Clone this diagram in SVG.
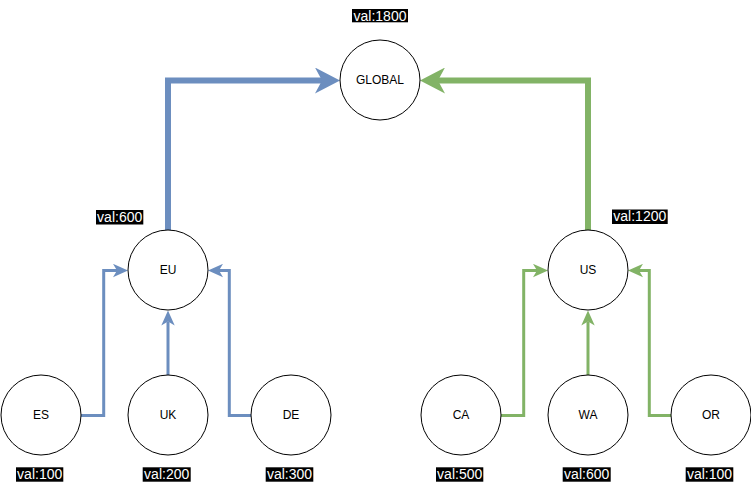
<svg xmlns="http://www.w3.org/2000/svg" width="751" height="490" viewBox="0 0 751 490">
  <style>
    .node circle { fill: #ffffff; stroke: #000000; stroke-width: 1; }
    .node text { font-family: "Liberation Sans", Arial, Helvetica, sans-serif; font-size: 12px; fill: #000000; text-anchor: middle; }
    .lbl rect { fill: #000000; }
    .lbl text { font-family: "Liberation Sans", Arial, Helvetica, sans-serif; font-size: 14px; fill: #ffffff; text-anchor: middle; }
    .blue { fill: none; stroke: #6c8ebf; }
    .green { fill: none; stroke: #82b366; }
    .big { stroke-width: 6; }
    .small { stroke-width: 3; }
  </style>
  <defs>
    <marker id="bigBlue" markerUnits="userSpaceOnUse" markerWidth="26" markerHeight="26" viewBox="0 0 25 26" refX="7" refY="13" orient="auto">
      <path d="M0,0 L25,13 L0,26 L7,13 Z" fill="#6c8ebf"/>
    </marker>
    <marker id="bigGreen" markerUnits="userSpaceOnUse" markerWidth="26" markerHeight="26" viewBox="0 0 25 26" refX="7" refY="13" orient="auto">
      <path d="M0,0 L25,13 L0,26 L7,13 Z" fill="#82b366"/>
    </marker>
    <marker id="smBlue" markerUnits="userSpaceOnUse" markerWidth="15" markerHeight="14" viewBox="0 0 15 13.4" refX="4" refY="6.7" orient="auto">
      <path d="M0,0 L15,6.7 L0,13.4 L4,6.7 Z" fill="#6c8ebf"/>
    </marker>
    <marker id="smGreen" markerUnits="userSpaceOnUse" markerWidth="15" markerHeight="14" viewBox="0 0 15 13.4" refX="4" refY="6.7" orient="auto">
      <path d="M0,0 L15,6.7 L0,13.4 L4,6.7 Z" fill="#82b366"/>
    </marker>
  </defs>

  <g id="connectors">
    <path class="blue big" d="M168,230 V80.5 H322" marker-end="url(#bigBlue)"/>
    <path class="green big" d="M588,230 V80.5 H438" marker-end="url(#bigGreen)"/>
    <path class="blue small" d="M81,415.5 H103.7 V270.5 H117" marker-end="url(#smBlue)"/>
    <path class="blue small" d="M168,375 V321.5" marker-end="url(#smBlue)"/>
    <path class="blue small" d="M251,415.5 H229.3 V270.5 H219" marker-end="url(#smBlue)"/>
    <path class="green small" d="M501,415.5 H523.7 V270.5 H537" marker-end="url(#smGreen)"/>
    <path class="green small" d="M588,375 V321.5" marker-end="url(#smGreen)"/>
    <path class="green small" d="M671,415.5 H649.3 V270.5 H639" marker-end="url(#smGreen)"/>
  </g>

  <g id="GLOBAL" class="node">
    <circle cx="380" cy="80" r="40"/>
    <text x="380" y="84">GLOBAL</text>
  </g>
  <g id="EU" class="node">
    <circle cx="168" cy="270" r="40"/>
    <text x="168" y="274">EU</text>
  </g>
  <g id="US" class="node">
    <circle cx="588" cy="270" r="40"/>
    <text x="588" y="274">US</text>
  </g>
  <g id="ES" class="node">
    <circle cx="41" cy="415" r="40"/>
    <text x="41" y="419">ES</text>
  </g>
  <g id="UK" class="node">
    <circle cx="168" cy="415" r="40"/>
    <text x="168" y="419">UK</text>
  </g>
  <g id="DE" class="node">
    <circle cx="291" cy="415" r="40"/>
    <text x="291" y="419">DE</text>
  </g>
  <g id="CA" class="node">
    <circle cx="461" cy="415" r="40"/>
    <text x="461" y="419">CA</text>
  </g>
  <g id="WA" class="node">
    <circle cx="588" cy="415" r="40"/>
    <text x="588" y="419">WA</text>
  </g>
  <g id="OR" class="node">
    <circle cx="711" cy="415" r="40"/>
    <text x="711" y="419">OR</text>
  </g>

  <g id="labels">
    <g class="lbl"><rect x="352" y="9" width="56" height="13.3"/><text x="380" y="20.5">val:1800</text></g>
    <g class="lbl"><rect x="96" y="210" width="47.3" height="14.5"/><text x="119.7" y="221.5">val:600</text></g>
    <g class="lbl"><rect x="612" y="209.5" width="55.7" height="14.5"/><text x="639.8" y="221">val:1200</text></g>
    <g class="lbl"><rect x="16" y="467.3" width="47.3" height="14.4"/><text x="39.7" y="478.8">val:100</text></g>
    <g class="lbl"><rect x="142.7" y="467.3" width="48" height="14.4"/><text x="166.7" y="478.8">val:200</text></g>
    <g class="lbl"><rect x="265.7" y="467.3" width="47.6" height="14.4"/><text x="289.5" y="478.8">val:300</text></g>
    <g class="lbl"><rect x="436" y="467.3" width="47.3" height="14.4"/><text x="459.7" y="478.8">val:500</text></g>
    <g class="lbl"><rect x="562.7" y="467.3" width="48" height="14.4"/><text x="586.7" y="478.8">val:600</text></g>
    <g class="lbl"><rect x="685.7" y="467.3" width="47.6" height="14.4"/><text x="709.5" y="478.8">val:100</text></g>
  </g>
</svg>
